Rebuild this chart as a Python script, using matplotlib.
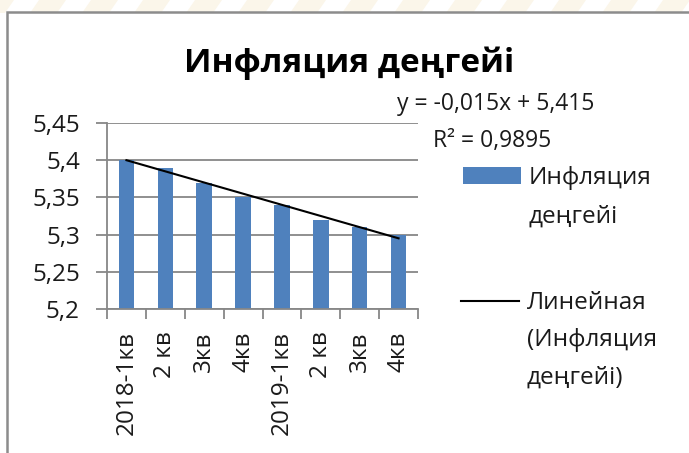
import numpy as np
import matplotlib.pyplot as plt
from matplotlib.patches import Rectangle, Polygon
from matplotlib.lines import Line2D

plt.rcParams['font.family'] = ['Open Sans', 'DejaVu Sans']

# chart data
TITLE = "Инфляция деңгейі"
quarters = ["2018-1кв", "2 кв", "3кв", "4кв", "2019-1кв", "2 кв", "3кв", "4кв"]
inflation = [5.40, 5.39, 5.37, 5.35, 5.34, 5.32, 5.31, 5.30]
y_ticks = [5.2, 5.25, 5.3, 5.35, 5.4, 5.45]
y_tick_labels = ["5,2", "5,25", "5,3", "5,35", "5,4", "5,45"]
series_label = "Инфляция\nдеңгейі"
trend_label = "Линейная\n(Инфляция\nдеңгейі)"

# look
W, H = 689, 453
BLUE = "#4f81bd"
GRID = "#878787"
TEXT = "#1a1a1a"


def fx(px):
    return px / W


def fy(py):
    return 1 - py / H


fig = plt.figure(figsize=(W / 100, H / 100), dpi=100)

# faint striped band above the chart frame
for k in range(-1, 15):
    x0 = 30 + 52 * k
    pts = [(fx(x0), fy(13)), (fx(x0 + 27), fy(13)),
           (fx(x0 + 36), fy(0)), (fx(x0 + 9), fy(0))]
    fig.patches.append(Polygon(pts, closed=True, transform=fig.transFigure,
                               fc="#fbf6ea", ec="none", zorder=0))
fig.patches.append(Rectangle((fx(7), -0.1), 1.2, fy(12) + 0.1,
                             transform=fig.transFigure, fill=False,
                             ec="#8c8c8c", lw=1.8, zorder=1))

ax = fig.add_axes([fx(107), fy(309), fx(418) - fx(107), fy(123) - fy(309)])

x = np.arange(len(inflation))
bars = ax.bar(x, inflation, width=0.4, color=BLUE, zorder=2)

# linear trend
slope, intercept = np.polyfit(x + 1, inflation, 1)
fit = slope * (x + 1) + intercept
ss_res = np.sum((np.array(inflation) - fit) ** 2)
ss_tot = np.sum((np.array(inflation) - np.mean(inflation)) ** 2)
r2 = 1 - ss_res / ss_tot
trend, = ax.plot(x, fit, color="black", lw=1.5, zorder=3)

ax.set_xlim(-0.5, len(inflation) - 0.5)
ax.set_ylim(5.2, 5.45)
ax.set_yticks(y_ticks)
ax.set_yticklabels(y_tick_labels)
ax.set_xticks(np.arange(len(inflation) + 1) - 0.5)
ax.set_xticklabels([])
ax.set_xticks(x, minor=True)
ax.set_xticklabels(quarters, minor=True, rotation=90, va="top", ha="center")

ax.tick_params(axis="y", length=8, width=1.3, color=GRID, pad=11.5,
               labelsize=17.5, labelcolor=TEXT)
ax.tick_params(axis="x", which="major", length=7.5, width=1.3, color=GRID)
ax.tick_params(axis="x", which="minor", length=0, pad=16,
               labelsize=17.5, labelcolor=TEXT)

ax.grid(axis="y", color=GRID, lw=1.3, zorder=1)
ax.set_axisbelow(True)
for s in ["top", "right"]:
    ax.spines[s].set_visible(False)
for s in ["left", "bottom"]:
    ax.spines[s].set_color(GRID)
    ax.spines[s].set_linewidth(1.3)
ax.spines["left"].set_bounds(5.2, 5.45)

fig.text(fx(349), fy(72), TITLE, ha="center", va="baseline",
         fontsize=24, fontweight="bold", color="black")

eq = "y = " + f"{slope:.3f}".replace(".", ",") + "x + " + f"{intercept:.3f}".replace(".", ",")
fig.text(fx(496), fy(110), eq, ha="center", va="baseline", fontsize=16.5, color=TEXT)
fig.text(fx(492), fy(147), "R² = " + f"{r2:.4f}".replace(".", ","),
         ha="center", va="baseline", fontsize=16.5, color=TEXT)

blank = Line2D([], [], linestyle="none")
s_lines = series_label.split("\n")
t_lines = trend_label.split("\n")
common = dict(frameon=False, loc="upper left", borderpad=0, borderaxespad=0,
              handlelength=2.4, handleheight=0.66, handletextpad=0.3,
              prop={"size": 17.5}, labelcolor=TEXT)
fig.legend([bars] + [blank] * (len(s_lines) - 1), s_lines,
           bbox_to_anchor=(fx(463), fy(166)), labelspacing=0.62, **common)
fig.legend([trend] + [blank] * (len(t_lines) - 1), t_lines,
           bbox_to_anchor=(fx(461), fy(291)), labelspacing=0.55, **common)

fig.savefig("out.png", dpi=100)
